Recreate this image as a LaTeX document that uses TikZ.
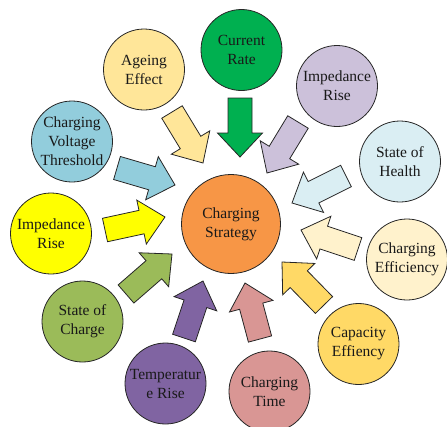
\documentclass[tikz,border=0pt]{standalone}
\usepackage{fontspec}
\setmainfont{Liberation Serif}
\usetikzlibrary{calc}

\definecolor{cStrategy}{HTML}{F79646}
\definecolor{cCurrent}{HTML}{00B050}
\definecolor{cAgeing}{HTML}{FFE699}
\definecolor{cImpTop}{HTML}{CCC1DA}
\definecolor{cHealth}{HTML}{DAEEF3}
\definecolor{cVoltage}{HTML}{92CDDC}
\definecolor{cImpLeft}{HTML}{FFFF00}
\definecolor{cCharge}{HTML}{9BBB59}
\definecolor{cTemp}{HTML}{8064A2}
\definecolor{cTime}{HTML}{D99694}
\definecolor{cCapacity}{HTML}{FFD966}
\definecolor{cEfficiency}{HTML}{FFF2CC}

\tikzset{
  factor/.style={circle, draw=black!85, line width=0.8pt, minimum size=81pt,
    inner sep=0pt, align=center, text=black!90,
    font=\fontsize{15.5}{19}\selectfont},
  hub/.style={factor, minimum size=99pt},
  blockarrow/.style={draw=black!85, line width=0.8pt, line join=miter}
}

% block arrow from tail coordinate to tip coordinate
% #1 name prefix, #2 fill colour, #3 tail, #4 tip
\newcommand\forcearrow[4]{%
  \coordinate (#1t) at #3;
  \coordinate (#1h) at #4;
  \coordinate (#1b) at ($(#1h)!24pt!(#1t)$);
  \draw[blockarrow, fill=#2]
    ($(#1t)!12pt!90:(#1h)$) -- ($(#1b)!12pt!90:(#1h)$) --
    ($(#1b)!22.5pt!90:(#1h)$) -- (#1h) --
    ($(#1b)!22.5pt!-90:(#1h)$) -- ($(#1b)!12pt!-90:(#1h)$) --
    ($(#1t)!12pt!-90:(#1h)$) -- cycle;}

\begin{document}
\begin{tikzpicture}[x=1pt, y=-1pt]
  \useasboundingbox (0,0) rectangle (447,426);

  % central circle
  \node[hub, fill=cStrategy] (strategy) at (231,224) {Charging\\Strategy};

  % surrounding factors
  \node[factor, fill=cCurrent]    (current)  at (241.5,50)  {Current\\Rate};
  \node[factor, fill=cAgeing]     (ageing)   at (144,69.5)  {Ageing\\Effect};
  \node[factor, fill=cImpTop]     (imptop)   at (337,86)    {Impedance\\Rise};
  \node[factor, fill=cHealth]     (health)   at (400,161.5) {State of\\Health};
  \node[factor, fill=cVoltage]    (voltage)  at (72,141.5)  {Charging\\Voltage\\Threshold};
  \node[factor, fill=cImpLeft]    (impleft)  at (51,233.5)  {Impedance\\Rise};
  \node[factor, fill=cCharge]     (charge)   at (82.5,321.5) {State of\\Charge};
  \node[factor, fill=cTemp]       (temp)     at (165.5,383.5) {Temperatur\\e Rise};
  \node[factor, fill=cTime]       (time)     at (269.5,391.5) {Charging\\Time};
  \node[factor, fill=cCapacity]   (capacity) at (358.5,344) {Capacity\\Effiency};
  \node[factor, fill=cEfficiency] (efficiency) at (407,259.5) {Charging\\Efficiency};

  % arrows pointing into the central circle
  \forcearrow{aCur}{cCurrent}{(240,98)}{(240,157)}
  \forcearrow{aAge}{cAgeing}{(172,112)}{(203,163)}
  \forcearrow{aImpT}{cImpTop}{(298,122)}{(267,173)}
  \forcearrow{aHea}{cHealth}{(346,176)}{(292,203)}
  \forcearrow{aVol}{cVoltage}{(117,168)}{(175,185)}
  \forcearrow{aImpL}{cImpLeft}{(105,230)}{(165,217)}
  \forcearrow{aCha}{cCharge}{(126,294)}{(172,254)}
  \forcearrow{aTem}{cTemp}{(184,338)}{(203,281)}
  \forcearrow{aTim}{cTime}{(260,339)}{(245,283)}
  \forcearrow{aCap}{cCapacity}{(324,305)}{(282,262)}
  \forcearrow{aEff}{cEfficiency}{(358,249)}{(301,230)}
\end{tikzpicture}
\end{document}
